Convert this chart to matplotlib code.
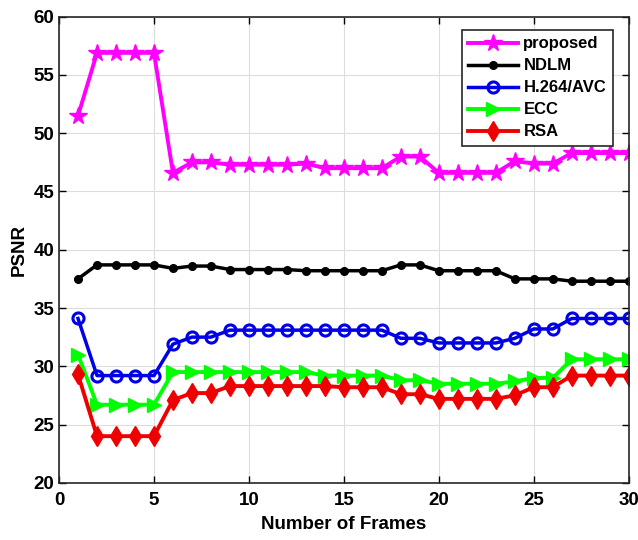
import matplotlib
matplotlib.use('Agg')
import matplotlib.pyplot as plt

plt.rcParams['font.family'] = ['Liberation Sans', 'DejaVu Sans']
plt.rcParams['font.weight'] = 'bold'

frames = list(range(1, 31))
proposed = [51.5, 56.9, 56.9, 56.9, 56.9, 46.6, 47.5, 47.5, 47.3, 47.3,
            47.3, 47.3, 47.4, 47.0, 47.0, 47.0, 47.0, 48.0, 48.0, 46.6,
            46.6, 46.6, 46.6, 47.6, 47.4, 47.4, 48.3, 48.3, 48.3, 48.3]
ndlm = [37.5, 38.7, 38.7, 38.7, 38.7, 38.4, 38.6, 38.6, 38.3, 38.3,
        38.3, 38.3, 38.2, 38.2, 38.2, 38.2, 38.2, 38.7, 38.7, 38.2,
        38.2, 38.2, 38.2, 37.5, 37.5, 37.5, 37.3, 37.3, 37.3, 37.3]
h264 = [34.1, 29.2, 29.2, 29.2, 29.2, 31.9, 32.5, 32.5, 33.1, 33.1,
        33.1, 33.1, 33.1, 33.1, 33.1, 33.1, 33.1, 32.4, 32.4, 32.0,
        32.0, 32.0, 32.0, 32.4, 33.2, 33.2, 34.1, 34.1, 34.1, 34.1]
ecc = [31.0, 26.7, 26.7, 26.7, 26.7, 29.5, 29.5, 29.5, 29.5, 29.5,
       29.5, 29.5, 29.5, 29.2, 29.2, 29.2, 29.2, 28.8, 28.8, 28.5,
       28.5, 28.5, 28.5, 28.7, 29.0, 29.0, 30.6, 30.6, 30.6, 30.6]
rsa = [29.3, 24.0, 24.0, 24.0, 24.0, 27.1, 27.7, 27.7, 28.3, 28.3,
       28.3, 28.3, 28.3, 28.3, 28.2, 28.2, 28.2, 27.6, 27.6, 27.2,
       27.2, 27.2, 27.2, 27.5, 28.2, 28.2, 29.2, 29.2, 29.2, 29.2]

fig = plt.figure(figsize=(6.38, 5.40), dpi=100)
ax = fig.add_axes([0.0925, 0.106, 0.893, 0.863])

ax.plot(frames, proposed, color='#ff00ff', lw=2.8, marker='*', ms=13, label='proposed')
ax.plot(frames, ndlm, color='black', lw=2.5, marker='o', ms=5.5, label='NDLM')
ax.plot(frames, h264, color='#0000e6', lw=2.5, marker='o', ms=8, mfc='none', mew=2.2, label='H.264/AVC')
ax.plot(frames, ecc, color='#00ff00', lw=2.8, marker='>', ms=10, label='ECC')
ax.plot(frames, rsa, color='#ee0000', lw=2.8, marker='d', ms=10, label='RSA')

ax.set_xlim(0, 30)
ax.set_ylim(20, 60)
ax.set_xticks(range(0, 31, 5))
ax.set_yticks(range(20, 61, 5))
ax.grid(True, color='#dddddd', lw=0.8)
ax.tick_params(direction='in', top=True, right=True, labelsize=13.5, width=1, length=5)
ax.tick_params(axis='x', pad=7)
for s in ax.spines.values():
    s.set_linewidth(1.2)
    s.set_color('#262626')

ax.set_xlabel('Number of Frames', fontsize=13.5, fontweight='bold', labelpad=5)
ax.set_ylabel('PSNR', fontsize=13.5, fontweight='bold')

leg = ax.legend(loc='upper right', bbox_to_anchor=(0.972, 0.972), borderaxespad=0,
                fontsize=12, fancybox=False, framealpha=1, edgecolor='#262626',
                handlelength=3.0, handletextpad=0.3, borderpad=0.4, labelspacing=0.42)
leg.get_frame().set_linewidth(1.2)

fig.savefig('out.png', dpi=100)
